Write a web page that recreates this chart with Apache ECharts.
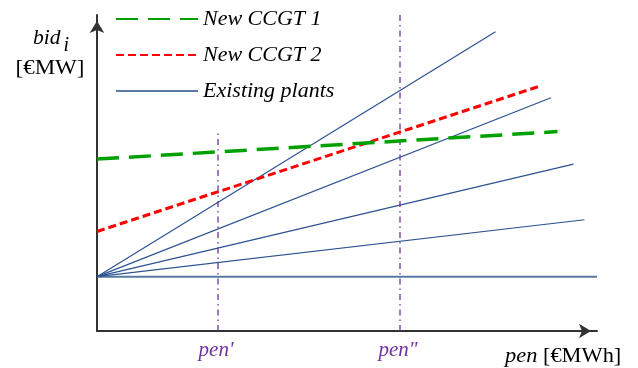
<!DOCTYPE html>
<html>
<head>
<meta charset="utf-8">
<script src="https://cdn.jsdelivr.net/npm/echarts@6/dist/echarts.min.js"></script>
<style>html,body{margin:0;padding:0;background:#fff}#c{width:638px;height:368px}</style>
</head>
<body>
<div id="c"></div>
<script>
// ---- data (abstract units: pen 0..100, bid 0..100) ----
const existingStart = [0, 17.2];
const existingEndX = [100, 97.5, 95.3, 90.8, 79.7];
const existingEndY = [17.2, 35.2, 52.8, 73.8, 94.7];
const ccgt1X = [0, 92.1];
const ccgt1Y = [54.4, 63.1];
const ccgt2X = [0, 88.6];
const ccgt2Y = [31.5, 77.5];
const penMarks = [24.2, 60.6];
const penTops = [62.7, 100];
const penLabels = ["pen'", 'pen"'];
const legendNames = ['New CCGT 1', 'New CCGT 2', 'Existing plants'];

const serif = '"Liberation Serif", "DejaVu Serif", serif';
const series = [];

existingEndX.forEach(function (x, i) {
  const first = i === 0;
  series.push({
    name: 'Existing plants', type: 'line', symbol: 'none', z: 2,
    lineStyle: { color: first ? '#5a7aa3' : '#2c5291', width: first ? 2 : 1.2 },
    itemStyle: { color: first ? '#5a7aa3' : '#2c5291' },
    data: [existingStart, [x, existingEndY[i]]]
  });
});

penMarks.forEach(function (x, i) {
  series.push({
    type: 'line', symbol: 'circle', symbolSize: 0, showSymbol: true, z: 3, silent: true,
    itemStyle: { color: 'rgba(0,0,0,0)' },
    lineStyle: { color: '#7030a0', width: 1.3, type: [6, 4, 1.5, 4] },
    label: { show: false },
    data: [
      { value: [x, 0], label: { show: true, position: 'bottom', distance: 9, offset: [-2, 0], formatter: penLabels[i],
        color: '#7030a0', fontFamily: serif, fontStyle: 'italic', fontSize: 21 } },
      [x, penTops[i]]
    ]
  });
});

series.push({
  name: 'New CCGT 2', type: 'line', symbol: 'none', z: 4,
  lineStyle: { color: '#ff0000', width: 3, type: [8, 4] },
  itemStyle: { color: '#ff0000' },
  data: ccgt2X.map(function (x, i) { return [x, ccgt2Y[i]]; })
});
series.push({
  name: 'New CCGT 1', type: 'line', symbol: 'none', z: 5,
  lineStyle: { color: '#00a000', width: 3.5, type: [22, 10] },
  itemStyle: { color: '#00a000' },
  data: ccgt1X.map(function (x, i) { return [x, ccgt1Y[i]]; })
});

const chart = echarts.init(document.getElementById('c'), null, { renderer: 'canvas' });
chart.setOption({
  animation: false,
  backgroundColor: '#fff',
  textStyle: { fontFamily: serif },
  grid: { left: 97, right: 41, top: 15, bottom: 37, containLabel: false, outerBoundsMode: 'none' },
  legend: {
    data: legendNames, orient: 'vertical', left: 115, top: 8, padding: 0,
    itemWidth: 82, itemHeight: 20, itemGap: 14,
    itemStyle: { opacity: 0 },
    textStyle: { fontFamily: serif, fontStyle: 'italic', fontSize: 22, color: '#000' }
  },
  xAxis: {
    type: 'value', min: 0, max: 100,
    axisLine: { show: true, onZero: false, symbol: ['none', 'arrow'], symbolSize: [11, 12], symbolOffset: [0, -6],
      lineStyle: { color: '#333', width: 2 } },
    axisTick: { show: false }, axisLabel: { show: false }, splitLine: { show: false }
  },
  yAxis: {
    type: 'value', min: 0, max: 100,
    axisLine: { show: true, onZero: false, symbol: ['none', 'arrow'], symbolSize: [11, 12], symbolOffset: [0, -6],
      lineStyle: { color: '#333', width: 2 } },
    axisTick: { show: false }, axisLabel: { show: false }, splitLine: { show: false }
  },
  graphic: [
    { type: 'text', x: 33, y: 38.5, scaleX: 1.08, style: { text: 'bid', fontFamily: serif, fontStyle: 'italic', fontSize: 20, fill: '#000', textAlign: 'left', textVerticalAlign: 'middle' } },
    { type: 'text', x: 63.5, y: 45.5, style: { text: 'i', fontFamily: serif, fontStyle: 'italic', fontSize: 20, fill: '#000', textAlign: 'left', textVerticalAlign: 'middle' } },
    { type: 'text', x: 50, y: 69, scaleX: 1.15, style: { text: '[€MW]', fontFamily: serif, fontSize: 20, fill: '#000', textAlign: 'center', textVerticalAlign: 'middle' } },
    { type: 'text', x: 505, y: 357, scaleX: 1.12, style: { text: '{i|pen} [€MWh]', rich: { i: { fontStyle: 'italic', fontFamily: serif, fontSize: 20 } }, fontFamily: serif, fontSize: 20, fill: '#000', textAlign: 'left', textVerticalAlign: 'middle' } }
  ],
  series: series
});
</script>
</body>
</html>
